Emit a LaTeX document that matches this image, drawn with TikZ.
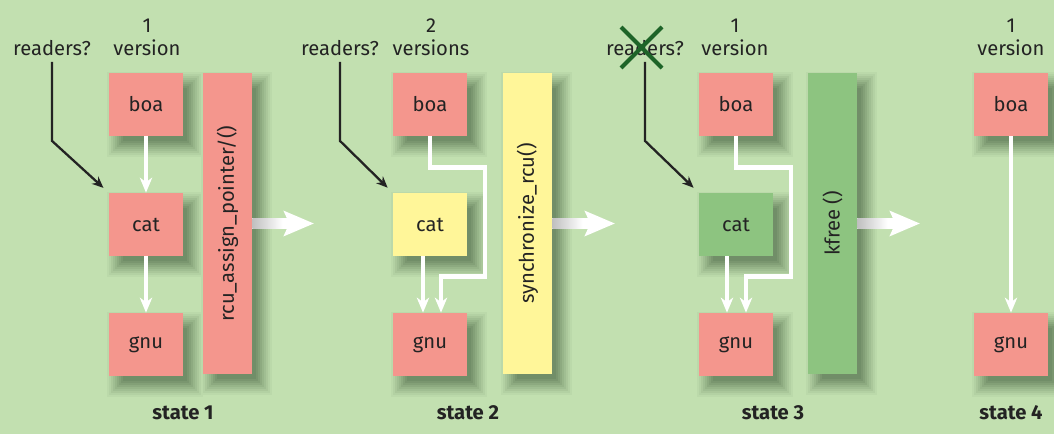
\documentclass[tikz,border=0pt]{standalone}
\usepackage{fontspec}
\usepackage{graphicx}
\setmainfont{Fira Sans}
\usetikzlibrary{arrows.meta,calc,backgrounds}
\definecolor{bggreen}{RGB}{194,224,176}
\definecolor{boxpink}{RGB}{244,150,141}
\definecolor{boxyellow}{RGB}{255,246,153}
\definecolor{boxgreen}{RGB}{141,196,128}
\definecolor{xgreen}{RGB}{30,100,40}
\definecolor{txtdark}{RGB}{35,35,35}
\definecolor{shadegreen}{RGB}{60,88,55}
% soft drop shadow behind a named node
\newcommand{\dropshade}[1]{%
  \foreach \e/\c in {11/5,9/11,7/18,5/25,3/32,1/40,-1/47,-3/54,-5/60}
    \fill[shadegreen!\c!bggreen] ($(#1.south west)+(9-\e,-10-\e)$) rectangle ($(#1.north east)+(9+\e,-10+\e)$);}
\begin{document}
\begin{tikzpicture}[x=0.02cm,y=0.02cm,
  font=\fontsize{11.5}{13}\selectfont, text=txtdark,
  obj/.style={minimum width=1.48cm,minimum height=1.26cm,inner sep=0pt},
  callbar/.style={minimum width=0.98cm,minimum height=6.02cm,inner sep=0pt},
  verlabel/.style={align=center},
  statelabel/.style={font=\fontsize{11.5}{13}\selectfont\bfseries},
  link/.style={draw=white,line width=2.6pt,-{Stealth[length=8.5pt,width=7pt,inset=2.5pt]}},
  reader/.style={draw=txtdark,line width=1.3pt,-{Stealth[length=6.5pt,width=5.5pt]},shorten >=4pt},
  bigarrow/.style={draw=white,line width=5.7pt,-{Stealth[length=17pt,width=14pt,inset=3pt]}},
  xmark/.style={draw=xgreen,line width=2.3pt}]
\useasboundingbox (0,0) rectangle (1054,434);

% state 1
\node[verlabel] (v1) at (147,397) {1\\version};
\node (rd1) at (52,386) {readers?};
\node[obj,fill=boxpink] (boa1) at (146,329.5) {boa};
\node[obj,fill=boxpink] (cat1) at (146,209.5) {cat};
\node[obj,fill=boxpink] (gnu1) at (146,89.5) {gnu};
\node[callbar,fill=boxpink] (bar1) at (227.5,210.5) {\rotatebox{90}{rcu\_assign\_pointer/()}};
\node[statelabel] (st1) at (183,21) {state 1};
\draw[link] (boa1) -- (cat1);
\draw[link] (cat1) -- (gnu1);
\draw[reader] (rd1.south) -- ++(0,-79) -- (cat1.north west);

% state 2
\node[verlabel] (v2) at (431,397) {2\\versions};
\node (rd2) at (340,386) {readers?};
\node[obj,fill=boxpink] (boa2) at (430,329.5) {boa};
\node[obj,fill=boxyellow] (cat2) at (430,209.5) {cat};
\node[obj,fill=boxpink] (gnu2) at (430,89.5) {gnu};
\node[callbar,fill=boxyellow] (bar2) at (527.5,210.5) {\rotatebox{90}{synchronize\_rcu()}};
\node[statelabel] (st2) at (468,21) {state 2};
\draw[link] ($(cat2.south)+(-7,0)$) -- ($(gnu2.north)+(-7,0)$);
\draw[link] (boa2.south) -- ++(0,-31) -- ++(55,0) -- ++(0,-109) -- ++(-44,0) -- ($(gnu2.north)+(11,0)$);
\draw[reader] (rd2.south) -- ++(0,-79) -- (cat2.north west);

% state 3
\node[verlabel] (v3) at (735,397) {1\\version};
\node (rd3) at (645,386) {readers?};
\draw[xmark] ([shift={(-24,21)}]rd3.center) -- ([shift={(17,-20)}]rd3.center)
             ([shift={(-24,-20)}]rd3.center) -- ([shift={(17,21)}]rd3.center);
\node[obj,fill=boxpink] (boa3) at (736,329.5) {boa};
\node[obj,fill=boxgreen] (cat3) at (736,209.5) {cat};
\node[obj,fill=boxpink] (gnu3) at (736,89.5) {gnu};
\node[callbar,fill=boxgreen] (bar3) at (832.5,210.5) {\rotatebox{90}{kfree ()}};
\node[statelabel] (st3) at (773,21) {state 3};
\draw[link] ($(cat3.south)+(-9,0)$) -- ($(gnu3.north)+(-9,0)$);
\draw[link] (boa3.south) -- ++(0,-31) -- ++(55,0) -- ++(0,-109) -- ++(-45,0) -- ($(gnu3.north)+(10,0)$);
\draw[reader] (rd3.south) -- ++(0,-79) -- (cat3.north west);

% state 4
\node[verlabel] (v4) at (1011,397) {1\\version};
\node[obj,fill=boxpink] (boa4) at (1011,329.5) {boa};
\node[obj,fill=boxpink] (gnu4) at (1011,89.5) {gnu};
\node[statelabel] (st4) at (1011,21) {state 4};
\draw[link] (boa4) -- (gnu4);

% transitions
\coordinate (t1) at (314,210.5);
\coordinate (t2) at (615,210.5);
\coordinate (t3) at (920,210.5);
\foreach \b/\t in {bar1/t1,bar2/t2,bar3/t3}{
  \draw[bigarrow] (\b.east) -- (\t);
  \shade[left color=black!25,right color=white] ($(\b.east)+(0,-5)$) rectangle ($(\b.east)+(30,5)$);
}

% background and shadows
\begin{scope}[on background layer]
\fill[bggreen] (0,0) rectangle (1054,434);
\foreach \n in {boa1,cat1,gnu1,bar1,boa2,cat2,gnu2,bar2,boa3,cat3,gnu3,bar3,boa4,gnu4}
  {\dropshade{\n}}
\end{scope}
\end{tikzpicture}
\end{document}
